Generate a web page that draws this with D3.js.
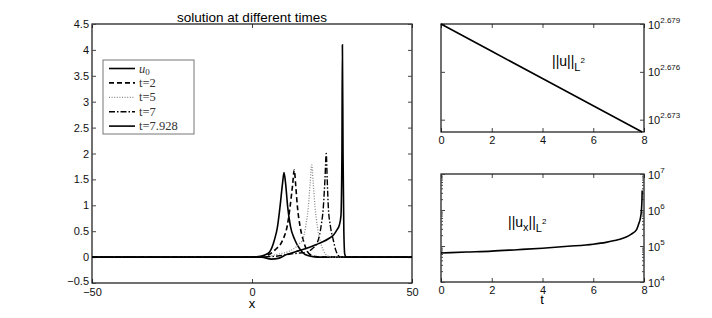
<!DOCTYPE html>
<html>
<head>
<meta charset="utf-8">
<script src="https://cdn.jsdelivr.net/npm/d3@7"></script>
<style>
  body { margin: 0; background: #fff; }
  svg { display: block; font-family: "Liberation Sans", Arial, sans-serif; }
  .tick line { stroke: #444; }
  .tick text { fill: #111; font-size: 11px; }
</style>
</head>
<body>
<svg id="chart" width="712" height="318"></svg>
<script>
// left panel: snapshots of u(x) at different times, [x, u]
const u0 = [[-50,0],[-20,0],[0,0.005],[2,0.01],[4,0.04],[5.5,0.1],[7,0.33],[8,0.6],[8.75,0.97],
  [9.5,1.4],[10,1.63],[10.5,1.42],[11.15,0.97],[12,0.6],[13.4,0.33],[15,0.15],[16.6,0.05],[19,0.01],[22,0],[50,0]];
const t2 = [[-50,0],[0,0],[3,0.01],[5,0.04],[7.2,0.14],[9.6,0.33],[11,0.6],[11.9,0.97],[12.7,1.4],
  [13.2,1.68],[13.7,1.35],[14.2,0.97],[15,0.6],[16,0.33],[17,0.15],[18.1,0.05],[20,0.01],[23,0],[50,0]];
const t5 = [[-50,0],[0,0],[5,0.01],[7.6,0.05],[11,0.1],[13.5,0.18],[15,0.27],[15.8,0.33],[16.8,0.6],
  [17.6,0.97],[18.2,1.45],[18.65,1.78],[19.1,1.45],[19.7,0.97],[20.4,0.6],[21.25,0.33],[22.3,0.13],[23.5,0.03],[25,0],[50,0]];
const t7 = [[-50,0],[0,0],[8,0.02],[12,0.06],[15,0.08],[17.1,0.1],[19,0.17],[20.7,0.33],[21.6,0.6],
  [22.3,0.97],[22.8,1.5],[23.2,2.0],[23.5,1.5],[23.85,0.97],[24.5,0.6],[25.4,0.33],[26.2,0.13],[27,0.03],[28,0],[50,0]];
const tEnd = [[-50,0],[0,0],[3,0],[6,-0.04],[8.5,-0.02],[10.8,0.05],[11.9,0.07],[14.5,0.12],[17.1,0.17],
  [20,0.24],[22.3,0.30],[24,0.36],[25.4,0.42],[26.5,0.52],[27.3,0.62],[27.8,0.8],[28.1,2.0],[28.25,4.1],
  [28.45,2.0],[28.7,0.5],[29,0.05],[29.5,0],[50,0]];

const legendLabels = ['u0', 't=2', 't=5', 't=7', 't=7.928'];
const xTicksLeft = [-50, 0, 50];
const yTicksLeft = [-0.5, 0, 0.5, 1, 1.5, 2, 2.5, 3, 3.5, 4, 4.5];

// right panels: norms vs time
const timeL2 = [0, 2, 4, 6, 7.928];
const normU = [477.53, 475.65, 473.79, 471.93, 470.14];
const normUExp = ['2.673', '2.676', '2.679'];

const timeUx = [0, 1, 2, 3, 4, 5, 6, 6.5, 7, 7.3, 7.5, 7.7, 7.8, 7.85, 7.9, 7.92, 7.928];
const normUx = [6.4e4, 6.8e4, 7.2e4, 7.9e4, 8.7e4, 9.8e4, 1.12e5, 1.26e5, 1.51e5, 1.78e5,
  2.14e5, 2.8e5, 4.3e5, 5.6e5, 1.0e6, 2.0e6, 3.5e6];
const tTicks = [0, 2, 4, 6, 8];

const svg = d3.select('#chart');

function styleAxis(g) {
  g.select('.domain').remove();
}

// draws inward ticks on bottom and top plus the frame
function frame(x, y, xt, opts) {
  const [x0, x1] = x.range();
  const [y1, y0] = y.range();
  const g = svg.append('g');
  g.append('g').attr('transform', `translate(0,${y1})`)
    .call(d3.axisBottom(x).tickValues(xt).tickSize(-4).tickPadding(opts.pad || 4.2)
      .tickFormat(opts.xFormat || (d => d)))
    .call(styleAxis);
  g.append('g').attr('transform', `translate(0,${y0})`)
    .call(d3.axisTop(x).tickValues(xt).tickSize(-4).tickFormat(''))
    .call(styleAxis);
  g.append('rect')
    .attr('x', x0).attr('y', y0)
    .attr('width', x1 - x0).attr('height', y1 - y0)
    .attr('fill', 'none').attr('stroke', '#111').attr('stroke-width', 1.2);
  return g;
}

const lineStyles = [
  { data: u0, dash: null, color: '#000', w: 1.6 },
  { data: t2, dash: '5,3', color: '#000', w: 1.6 },
  { data: t5, dash: '1,1.6', color: '#888', w: 1.3 },
  { data: t7, dash: '6,2,1.5,2', color: '#000', w: 1.4 },
  { data: tEnd, dash: null, color: '#000', w: 1.6 }
];

// ---------- left panel ----------
const xL = d3.scaleLinear().domain([-50, 50]).range([92, 412]);
const yL = d3.scaleLinear().domain([-0.5, 4.5]).range([283, 24]);

const leftPanel = frame(xL, yL, xTicksLeft, {
  pad: 5,
  xFormat: d => d < 0 ? '\u2212' + Math.abs(d) : d
});
leftPanel.append('g').attr('transform', 'translate(92,0)')
  .call(d3.axisLeft(yL).tickValues(yTicksLeft).tickSize(-4).tickPadding(3)
    .tickFormat(d => d < 0 ? '\u2212' + Math.abs(d) : d))
  .call(styleAxis)
  .call(g => g.selectAll('.tick text').filter(d => d < 0).attr('dy', '0.1em'));
leftPanel.append('g').attr('transform', 'translate(412,0)')
  .call(d3.axisRight(yL).tickValues(yTicksLeft).tickSize(-4).tickFormat(''))
  .call(styleAxis);

const lineL = d3.line().x(d => xL(d[0])).y(d => yL(d[1])).curve(d3.curveMonotoneX);
svg.append('g').selectAll('path')
  .data(lineStyles)
  .join('path')
  .attr('d', d => lineL(d.data))
  .attr('fill', 'none')
  .attr('stroke', d => d.color)
  .attr('stroke-width', d => d.w)
  .attr('stroke-dasharray', d => d.dash);

svg.append('text').attr('x', 252).attr('y', 22).attr('text-anchor', 'middle')
  .style('font-size', '13.5px').text('solution at different times');
svg.append('text').attr('x', 252).attr('y', 308).attr('text-anchor', 'middle')
  .style('font-size', '13px').text('x');

// legend
const legend = svg.append('g').attr('transform', 'translate(103,60)');
legend.append('rect').attr('width', 91).attr('height', 74)
  .attr('fill', '#fff').attr('stroke', '#777').attr('stroke-width', 1);
const rows = legend.selectAll('g.row')
  .data(lineStyles)
  .join('g')
  .attr('transform', (d, i) => `translate(0,${8.5 + i * 14.4})`);
rows.append('line').attr('x1', 6).attr('x2', 32)
  .attr('stroke', d => d.color).attr('stroke-width', d => d.w)
  .attr('stroke-dasharray', d => d.dash);
rows.append('text')
  .attr('x', 36).attr('y', 4)
  .style('font-family', '"Liberation Serif", "DejaVu Serif", serif')
  .style('font-size', '12.5px').attr('fill', '#333')
  .each(function (d, i) {
    const t = d3.select(this);
    if (i === 0) {
      t.append('tspan').style('font-style', 'italic').text('u');
      t.append('tspan').attr('dy', 2.5).style('font-size', '9px').text('0');
    } else {
      t.text(legendLabels[i]);
    }
  });

// ---------- right panels ----------
function logLabels(g, exps) {
  g.selectAll('.tick text').each(function (d, i) {
    const t = d3.select(this).text('');
    t.attr('dy', null).attr('y', 4);
    t.append('tspan').text('10');
    t.append('tspan').attr('dy', -6).style('font-size', '8px').text(exps[i]);
  });
}

const xR = d3.scaleLinear().domain([0, 8]).range([441, 644]);

// top: ||u||_L2
const yTop = d3.scaleLog().domain([d3.min(normU), d3.max(normU)]).range([132, 24]);
const topTicks = normUExp.map(e => Math.pow(10, +e));
const topPanel = frame(xR, yTop, tTicks, {});
topPanel.append('g').attr('transform', 'translate(441,0)')
  .call(d3.axisLeft(yTop).tickValues(topTicks).tickSize(-4).tickFormat(''))
  .call(styleAxis);
topPanel.append('g').attr('transform', 'translate(644,0)')
  .call(d3.axisRight(yTop).tickValues(topTicks).tickSize(-4).tickPadding(4))
  .call(styleAxis)
  .call(g => logLabels(g, normUExp));

const lineTop = d3.line().x((d, i) => xR(timeL2[i])).y(d => yTop(d));
svg.append('path').attr('d', lineTop(normU))
  .attr('fill', 'none').attr('stroke', '#000').attr('stroke-width', 1.6);

const lblTop = svg.append('text').attr('x', 552).attr('y', 66).style('font-size', '14px');
lblTop.append('tspan').text('||u||');
lblTop.append('tspan').attr('dy', 5).style('font-size', '11px').text('L');
lblTop.append('tspan').attr('dy', -8).style('font-size', '8px').text('2');

// bottom: ||u_x||_L2
const yBot = d3.scaleLog().domain([1e4, 1e7]).range([282, 174]);
const decades = [1e4, 1e5, 1e6, 1e7];
const minor = yBot.ticks().filter(v => decades.indexOf(v) < 0);
const botPanel = frame(xR, yBot, tTicks, {});
botPanel.append('g').attr('transform', 'translate(441,0)')
  .call(d3.axisLeft(yBot).tickValues(decades).tickSize(-4).tickFormat(''))
  .call(styleAxis);
botPanel.append('g').attr('transform', 'translate(441,0)')
  .call(d3.axisLeft(yBot).tickValues(minor).tickSize(-2).tickFormat(''))
  .call(styleAxis);
botPanel.append('g').attr('transform', 'translate(644,0)')
  .call(d3.axisRight(yBot).tickValues(minor).tickSize(-2).tickFormat(''))
  .call(styleAxis);
botPanel.append('g').attr('transform', 'translate(644,0)')
  .call(d3.axisRight(yBot).tickValues(decades).tickSize(-4).tickPadding(4))
  .call(styleAxis)
  .call(g => logLabels(g, ['4', '5', '6', '7']));

const lineBot = d3.line().x((d, i) => xR(timeUx[i])).y(d => yBot(d)).curve(d3.curveMonotoneX);
svg.append('path').attr('d', lineBot(normUx))
  .attr('fill', 'none').attr('stroke', '#000').attr('stroke-width', 1.6);

const lblBot = svg.append('text').attr('x', 508).attr('y', 227).style('font-size', '14px');
lblBot.append('tspan').text('||u');
lblBot.append('tspan').attr('dy', 4).style('font-size', '11px').text('x');
lblBot.append('tspan').attr('dy', -4).text('||');
lblBot.append('tspan').attr('dy', 5).style('font-size', '11px').text('L');
lblBot.append('tspan').attr('dy', -8).style('font-size', '8px').text('2');

svg.append('text').attr('x', 542).attr('y', 304).attr('text-anchor', 'middle')
  .style('font-size', '13px').text('t');
</script>
</body>
</html>
